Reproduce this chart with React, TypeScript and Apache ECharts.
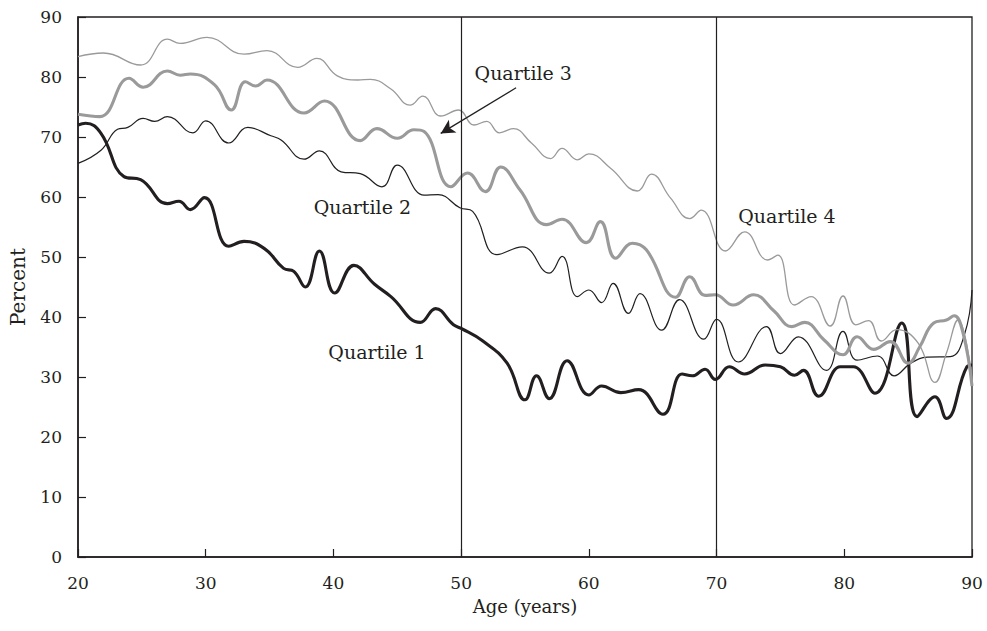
import React, { useEffect, useRef } from "react";
import * as echarts from "echarts";

// Quartile 1 (thick black): [age, percent]
const q1: [number, number][] = [
  [20, 72], [20.6, 72.3], [21.8, 70.6], [23.6, 63.4], [24.9, 62.9], [27, 58.9], [27.9, 59.3],
  [28.8, 57.9], [29.9, 59.9], [31.8, 51.8], [33, 52.6], [34.6, 51.4], [36.1, 48.1], [36.9, 47.6],
  [37.8, 45], [38.9, 51], [40.1, 44], [41.6, 48.6], [43.2, 45.5], [44.5, 43.4], [46.8, 39.1],
  [48, 41.4], [49.4, 38.7], [50, 38.1], [51.7, 36], [53.6, 32.3], [55, 26.2], [55.9, 30.2],
  [56.9, 26.4], [58.3, 32.7], [60, 27], [61, 28.5], [62.5, 27.4], [63.9, 27.9], [65.8, 23.8],
  [67.3, 30.5], [68.1, 30.2], [69.1, 31.3], [69.9, 29.6], [71, 31.7], [72.2, 30.5], [73.8, 32],
  [75, 31.7], [76.1, 30.3], [76.8, 31.1], [78, 26.8], [79.7, 31.7], [80.7, 31.7], [82.4, 27.3],
  [84.5, 39], [85.7, 23.4], [87.1, 26.7], [88, 23.1], [89.6, 31.7], [90, 32],
];

// Quartile 2 (thin black)
const q2: [number, number][] = [
  [20, 65.6], [21.8, 67.8], [23.1, 71.3], [23.9, 71.6], [25.1, 73.1], [26, 72.6], [27, 73.4],
  [29, 70.7], [30, 72.7], [31.8, 69], [33.3, 71.6], [35.1, 70.2], [35.9, 69.5], [37.7, 66.3],
  [38.9, 67.7], [40.6, 64.2], [42.1, 63.9], [43.8, 61.7], [45, 65.3], [47.1, 60.3], [48.2, 60.4],
  [49.9, 58.2], [50.9, 57.6], [52.8, 50.4], [54.8, 51.7], [56.9, 47.3], [57.9, 50.1], [59.1, 43.4],
  [60, 44.5], [61, 42.4], [61.9, 45.6], [63.1, 40.6], [64, 43.9], [65.7, 37.8], [67.1, 42.9],
  [69, 36.3], [70, 39.6], [71.7, 32.5], [73.9, 38.4], [75, 33.9], [76.4, 36.7], [78.6, 31.1],
  [79.9, 37.6], [81, 32.8], [82.6, 33.5], [83.9, 30.2], [85.2, 32.3], [86.5, 33.3], [88.3, 33.4],
  [89.4, 37], [90, 44.5],
];

// Quartile 3 (thick gray)
const q3: [number, number][] = [
  [20, 73.8], [21.7, 73.4], [24, 79.8], [25.1, 78.3], [27, 81], [28, 80.3], [28.8, 80.5],
  [30.7, 78.7], [32, 74.5], [33.1, 79.2], [33.9, 78.5], [34.8, 79.5], [37.7, 74], [39.3, 76],
  [42.1, 69.4], [43.4, 71.4], [45, 69.8], [46.3, 71.2], [47.1, 70.9], [49.2, 61.7], [50.5, 64],
  [51.9, 60.9], [53.1, 65], [54.6, 61.2], [56.7, 55.4], [57.9, 56.3], [59.8, 52.4], [60.9, 55.9],
  [62.1, 49.8], [63.4, 52.3], [64.5, 51.2], [66.8, 43.3], [67.9, 46.7], [69.1, 43.6], [69.9, 43.7],
  [71.3, 42], [72.9, 43.7], [74.5, 41], [75.9, 38.4], [76.9, 39.1], [78.4, 36.2], [79.9, 33.7],
  [81, 36.7], [82.3, 34.6], [83.6, 35.9], [85, 32.3], [85.9, 35], [87, 39], [88, 39.5],
  [88.6, 40.2], [89.3, 37.3], [90, 28.5],
];

// Quartile 4 (thin gray)
const q4: [number, number][] = [
  [20, 83.4], [22, 84], [24.9, 82], [27, 86.3], [28, 85.6], [30.1, 86.6], [33, 83.8], [34.8, 84.4],
  [37.2, 81.6], [38.7, 83.1], [40.3, 80.2], [41.9, 79.5], [42.9, 79.6], [44.5, 78], [46, 75.3],
  [47, 76.8], [48.4, 73.5], [49.8, 74.5], [51, 72], [52, 72.6], [53, 70.7], [54.1, 71.4],
  [55.5, 69], [57, 66.4], [57.9, 68.1], [59.1, 66.2], [60, 67.2], [61.7, 64.8], [63.8, 61],
  [64.9, 63.8], [66.4, 59.8], [67.9, 56.4], [68.8, 57.8], [70.7, 51], [72.2, 54.2], [74, 49.5],
  [74.8, 50.3], [76.1, 42], [77.4, 43.4], [78.9, 38.5], [79.9, 43.5], [80.9, 38.7], [81.9, 39.4],
  [82.9, 36], [84.1, 37.9], [85.8, 35.6], [87.1, 29.1], [88, 34], [88.9, 39.5], [90, 29.5],
];

const seriesNames = ["Quartile 1", "Quartile 2", "Quartile 3", "Quartile 4"];
// label anchor points [age, percent] (left edge, vertical middle)
const labelAnchors: [number, number][] = [
  [39.6, 34.2], [38.45, 58.3], [51.05, 80.7], [71.7, 56.8],
];
const arrowFrom: [number, number] = [54.3, 78.2];
const arrowTo: [number, number] = [48.4, 70.6];
const refAges = [50, 70];

const FONT = "DejaVu Serif";
const INK = "#231f20";
const GRAY = "#9a9a9a";

export default function App() {
  const ref = useRef<HTMLDivElement>(null);
  useEffect(() => {
    if (!ref.current) return;
    const chart = echarts.init(ref.current, null, { renderer: "svg" });
    const lineDefs = [
      { data: q1, color: INK, width: 3.1 },
      { data: q2, color: INK, width: 1.2 },
      { data: q3, color: GRAY, width: 3.1 },
      { data: q4, color: GRAY, width: 1.3 },
    ];
    const series: any[] = lineDefs.map((d, i) => ({
      type: "line",
      name: seriesNames[i],
      data: d.data,
      smooth: 0.45,
      showSymbol: false,
      symbol: "none",
      lineStyle: { color: d.color, width: d.width },
      z: 3,
      markPoint: {
        symbol: "circle",
        symbolSize: 0,
        data: [{ coord: labelAnchors[i] }],
        label: {
          show: true,
          position: "right",
          distance: 0,
          formatter: seriesNames[i],
          fontFamily: FONT,
          fontSize: 19,
          color: INK,
        },
      },
    }));
    series.push({
      type: "line",
      data: [],
      markLine: {
        silent: true,
        symbol: ["none", "none"],
        label: { show: false },
        lineStyle: { color: INK, width: 1.2, type: "solid" },
        data: refAges.map((a) => ({ xAxis: a })),
      },
    });
    series.push({
      type: "line",
      data: [],
      markLine: {
        silent: true,
        symbol: ["none", "arrow"],
        symbolSize: [11, 14],
        label: { show: false },
        lineStyle: { color: INK, width: 1.3, type: "solid" },
        itemStyle: { color: INK },
        data: [[{ coord: arrowFrom }, { coord: arrowTo }]],
      },
    });
    chart.setOption({
      animation: false,
      backgroundColor: "#ffffff",
      grid: {
        left: 77, right: 15, top: 17, bottom: 74,
        show: true, borderColor: INK, borderWidth: 1.3,
      },
      xAxis: {
        type: "value",
        min: 20, max: 90, interval: 10,
        name: "Age (years)",
        nameLocation: "middle",
        nameGap: 40,
        nameTextStyle: { fontFamily: FONT, fontSize: 18, color: INK },
        axisLine: { show: true, lineStyle: { color: INK, width: 1.6 } },
        axisTick: { show: true, inside: true, length: 8, lineStyle: { color: INK, width: 1.2 } },
        axisLabel: { fontFamily: FONT, fontSize: 17, color: INK, margin: 17 },
        splitLine: { show: false },
      },
      yAxis: {
        type: "value",
        min: 0, max: 90, interval: 10,
        name: "Percent",
        nameLocation: "middle",
        nameGap: 50,
        nameTextStyle: { fontFamily: FONT, fontSize: 20, color: INK },
        axisLine: { show: true, lineStyle: { color: INK, width: 1.6 } },
        axisTick: { show: true, inside: true, length: 8, lineStyle: { color: INK, width: 1.2 } },
        axisLabel: { fontFamily: FONT, fontSize: 17, color: INK, margin: 16 },
        splitLine: { show: false },
      },
      series,
    });
    return () => chart.dispose();
  }, []);
  return <div ref={ref} style={{ width: 987, height: 631, position: "absolute", left: 0, top: 0 }} />;
}
